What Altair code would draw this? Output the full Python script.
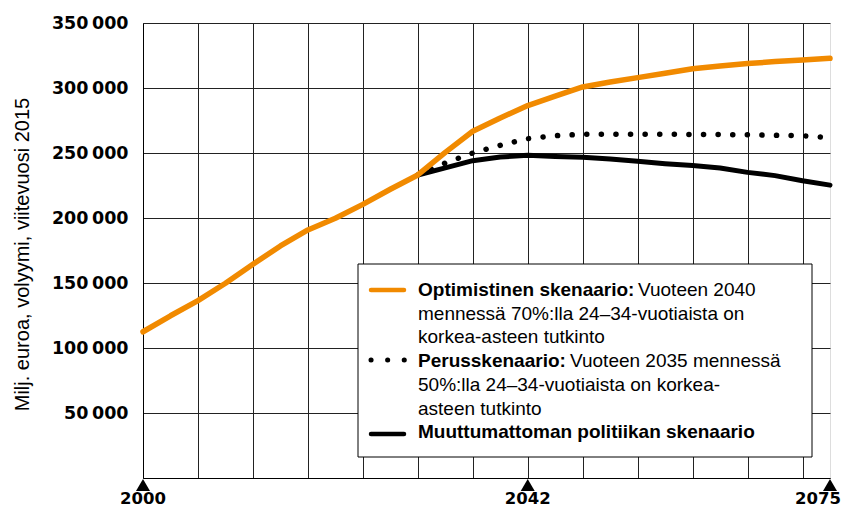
import altair as alt
import pandas as pd

years_all = list(range(2000, 2076, 3))
years_split = list(range(2030, 2076, 3))

optimistinen = [112500, 124800, 136400, 149800, 164400, 178500, 190800, 199800, 210500,
                222100, 233100, 250500, 266700, 276900, 286500, 293800, 300800, 304600,
                308000, 311300, 314800, 317000, 318800, 320300, 321600, 322800]
perus = [233100, 242300, 250000, 255900, 261000, 263300, 264400, 264500, 264500,
         264400, 264300, 264200, 264000, 263600, 263300, 261800]
muuttumaton = [233100, 238500, 244100, 246900, 248200, 247400, 246700, 245400, 243600,
               241800, 240300, 238500, 235100, 232600, 228700, 225300]

label_years = [2000, 2042, 2075]
y_ticks = [0, 50000, 100000, 150000, 200000, 250000, 300000, 350000]

y_title = "Milj. euroa, volyymi, viitevuosi 2015"
leg1_bold = "Optimistinen skenaario:"
leg1_rest = ["Vuoteen 2040", "mennessä 70%:lla 24–34-vuotiaista on", "korkea-asteen tutkinto"]
leg2_bold = "Perusskenaario:"
leg2_rest = ["Vuoteen 2035 mennessä", "50%:lla 24–34-vuotiaista on korkea-", "asteen tutkinto"]
leg3_bold = "Muuttumattoman politiikan skenaario"

ORANGE = "#F18A00"
TXT_FONT = "Liberation Sans"
NUM_FONT = "DejaVu Sans"

df_opt = pd.DataFrame({"year": years_all, "value": optimistinen})
df_per = pd.DataFrame({"year": years_split, "value": perus})
df_muu = pd.DataFrame({"year": years_split, "value": muuttumaton})
df_lab = pd.DataFrame({"year": label_years, "label": [str(y) for y in label_years]})

xscale = alt.Scale(domain=[2000, 2075], nice=False, zero=False)
yscale = alt.Scale(domain=[0, 350000], nice=False)

xaxis = alt.Axis(values=years_all, grid=True, gridColor="#222", gridWidth=1, ticks=False,
                 domainColor="#000", domainWidth=1, labels=False, title=None)
yaxis = alt.Axis(values=y_ticks, grid=True, gridColor="#222", gridWidth=1, ticks=False,
                 domainColor="#000", domainWidth=1,
                 labelExpr="datum.value == 0 ? '' : replace(format(datum.value, ','), ',', '\u2009')",
                 labelFont=NUM_FONT, labelFontWeight="bold", labelFontSize=17.5, labelColor="#000",
                 labelPadding=15, title=y_title, titleFont=TXT_FONT, titleFontSize=20,
                 titleFontWeight="normal", titleColor="#000", titleAngle=270,
                 titleX=-115, titleY=231, titleAlign="center", titleBaseline="alphabetic")


def line(df, **kw):
    return alt.Chart(df).mark_line(**kw).encode(
        x=alt.X("year:Q", scale=xscale, axis=xaxis),
        y=alt.Y("value:Q", scale=yscale, axis=yaxis),
    )


l_muu = line(df_muu, color="#000", strokeWidth=5, strokeCap="round", strokeJoin="round")
l_per = line(df_per, color="#000", strokeWidth=5.5, strokeCap="round", strokeDash=[0.1, 14.5])
l_opt = line(df_opt, color=ORANGE, strokeWidth=5.5, strokeCap="round", strokeJoin="round")

tri = alt.Chart(df_lab).mark_point(shape="triangle-up", filled=True, color="#000", size=196,
                                   opacity=1).encode(
    x=alt.X("year:Q", scale=xscale), y=alt.value(462))


def xlab(df, dx=0):
    return alt.Chart(df).mark_text(
        align="center", baseline="alphabetic", font=NUM_FONT, fontWeight="bold", fontSize=16.5,
        color="#000", dx=dx).encode(x=alt.X("year:Q", scale=xscale), y=alt.value(480.5),
                                    text="label:N")


xlabels_main = xlab(df_lab[df_lab["year"] < 2075])
xlabels_last = xlab(df_lab[df_lab["year"] == 2075], dx=-12)

one = pd.DataFrame({"a": [0]})

box = alt.Chart(one).mark_rect(fill="white", stroke="#000", strokeWidth=1).encode(
    x=alt.value(215), x2=alt.value(669), y=alt.value(241), y2=alt.value(434))

sym1 = alt.Chart(one).mark_rule(color=ORANGE, strokeWidth=4.5, strokeCap="round").encode(
    x=alt.value(228), x2=alt.value(261), y=alt.value(267))
sym2 = alt.Chart(one).mark_rule(color="#000", strokeWidth=5, strokeCap="round",
                                strokeDash=[0.1, 16.5]).encode(
    x=alt.value(228), x2=alt.value(262), y=alt.value(337))
sym3 = alt.Chart(one).mark_rule(color="#000", strokeWidth=4.5, strokeCap="round").encode(
    x=alt.value(228), x2=alt.value(261), y=alt.value(411))


def txt(s, x, y, bold=False):
    return alt.Chart(pd.DataFrame({"t": [s]})).mark_text(
        align="left", baseline="alphabetic", font=TXT_FONT, fontSize=19,
        fontWeight="bold" if bold else "normal", color="#000").encode(
        x=alt.value(x), y=alt.value(y), text="t:N")


LX = 275
rows = [273 + i * 23.7 for i in range(7)]
texts = [
    txt(leg1_bold, LX, rows[0], True),
    txt(leg1_rest[0], 495, rows[0]),
    txt(leg1_rest[1], LX, rows[1]),
    txt(leg1_rest[2], LX, rows[2]),
    txt(leg2_bold, LX, rows[3], True),
    txt(leg2_rest[0], 427, rows[3]),
    txt(leg2_rest[1], LX, rows[4]),
    txt(leg2_rest[2], LX, rows[5]),
    txt(leg3_bold, LX, rows[6], True),
]

chart = alt.layer(l_muu, l_per, l_opt, tri, xlabels_main, xlabels_last, box, sym1, sym2, sym3,
                  *texts).properties(
    width=687, height=455,
    autosize=alt.AutoSizeParams(type="none"),
    padding={"left": 135, "top": 15, "right": 13, "bottom": 30},
).configure_view(strokeWidth=0).configure(background="white")

chart.save("out.html", embed_options={"renderer": "svg", "actions": False})
